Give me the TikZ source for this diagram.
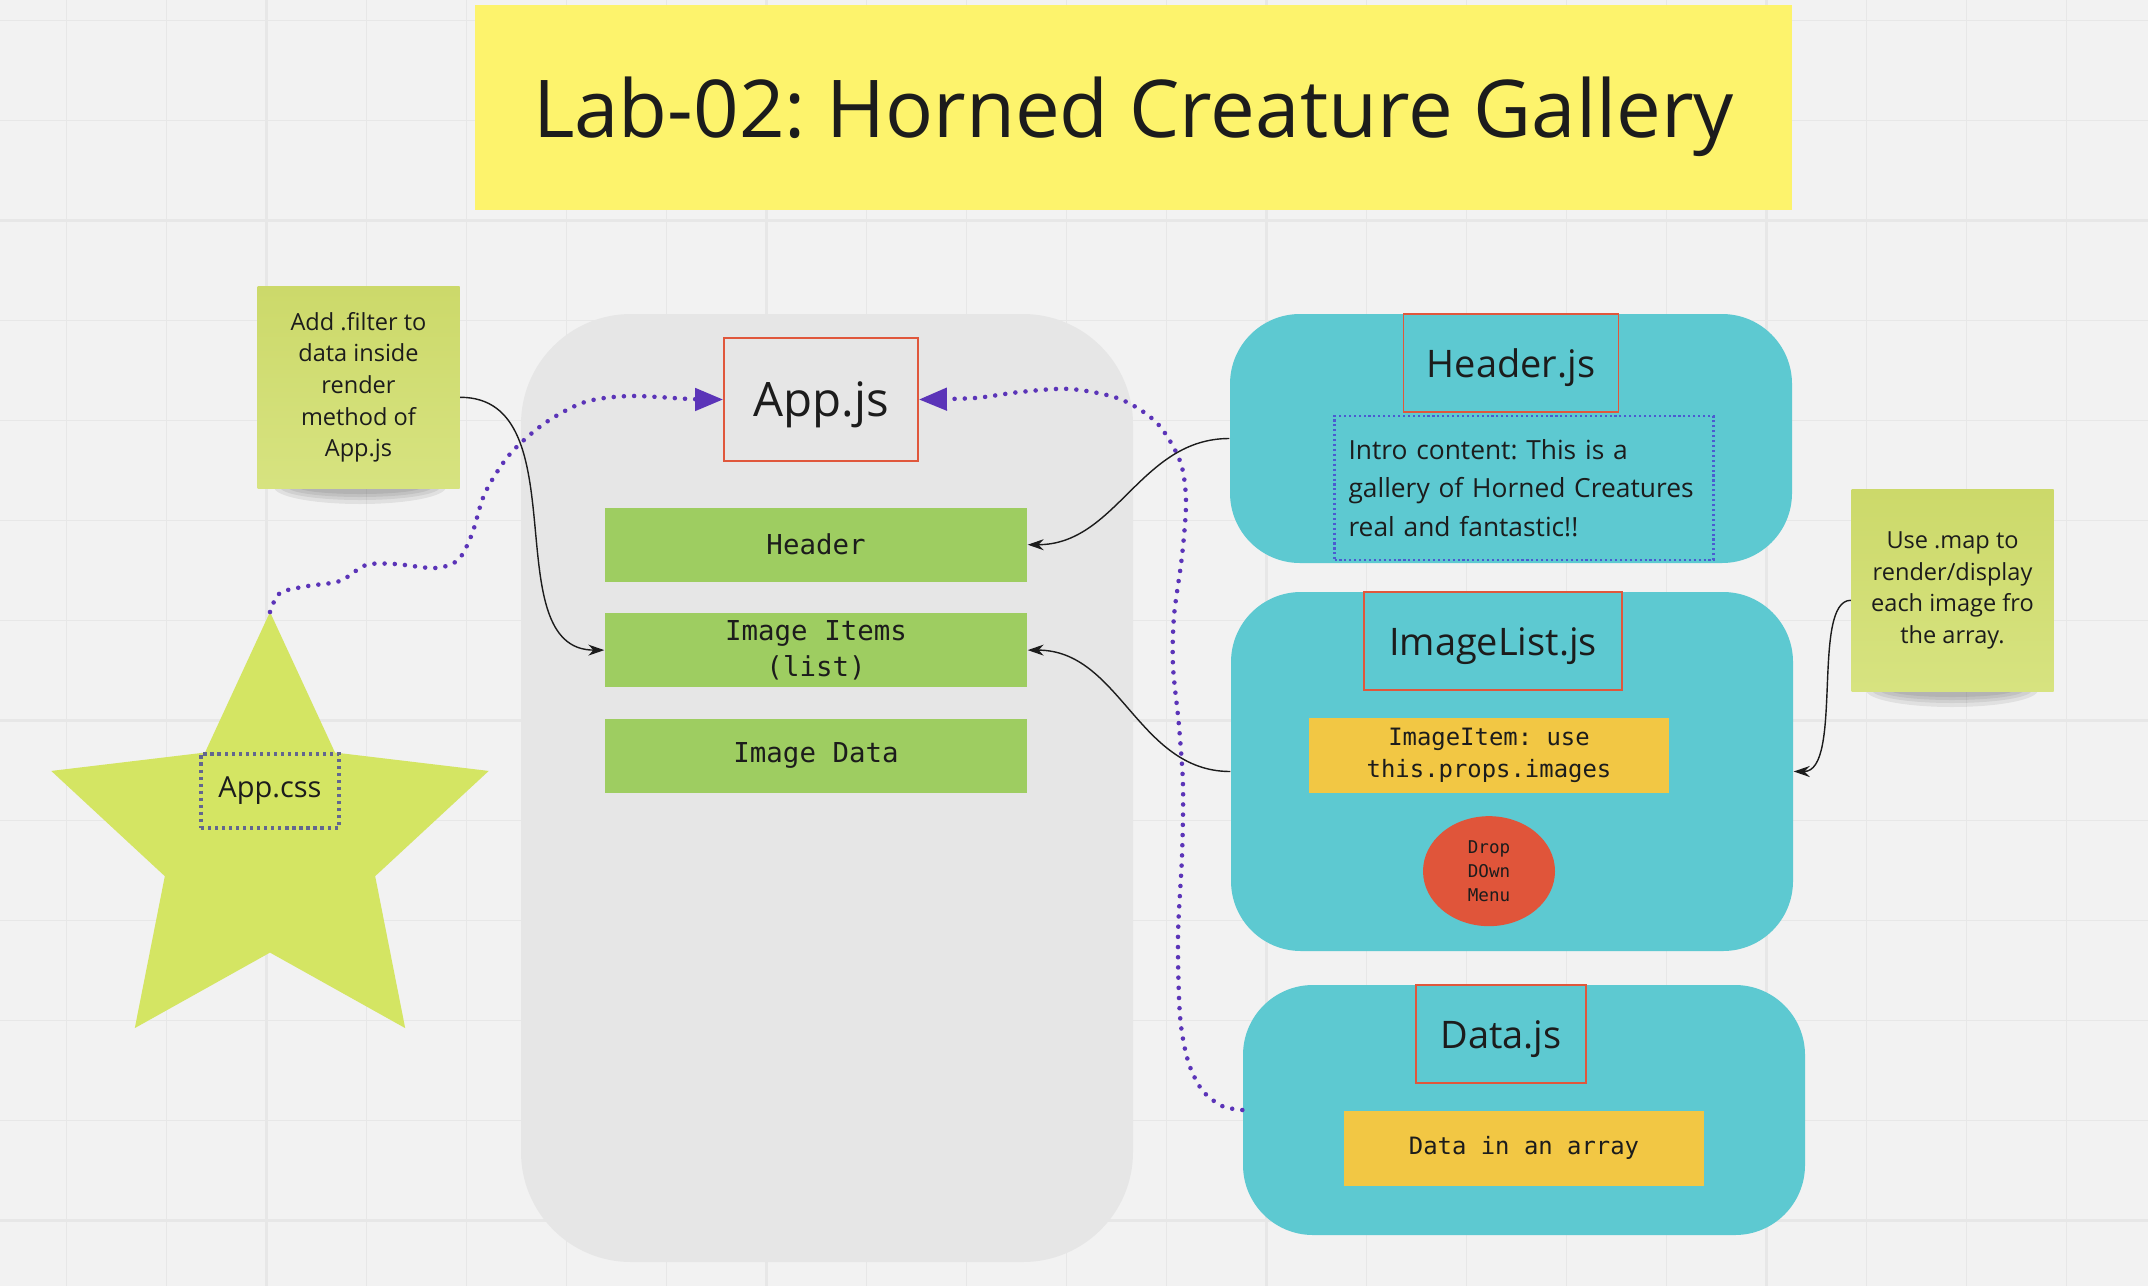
\documentclass[tikz,border=0pt]{standalone}
\usepackage{fontspec}
\setmainfont{Open Sans}
\setmonofont{DejaVu Sans Mono}
\usepackage{xcolor}
\usepackage{tikz}
\usetikzlibrary{shapes.geometric, arrows.meta, positioning}
\frenchspacing

\definecolor{paper}{HTML}{F2F2F2}
\definecolor{gridline}{HTML}{E7E7E7}
\definecolor{ink}{HTML}{1C1C1C}
\definecolor{titleyellow}{HTML}{FDF36C}
\definecolor{appgray}{HTML}{E6E6E6}
\definecolor{leafgreen}{HTML}{9ECD61}
\definecolor{filecyan}{HTML}{5DC9D1}
\definecolor{codeyellow}{HTML}{F2C744}
\definecolor{menured}{HTML}{E0553A}
\definecolor{jsred}{HTML}{E0573C}
\definecolor{stickytop}{HTML}{CCD96A}
\definecolor{stickybottom}{HTML}{D7E380}
\definecolor{stargreen}{HTML}{D4E563}
\definecolor{wirepurple}{HTML}{5B34B8}
\definecolor{introblue}{HTML}{4B5BD0}
\definecolor{cssslate}{HTML}{62668F}

\tikzset{
    banner/.style={rectangle, fill=titleyellow, minimum width=13.17cm, minimum height=2.05cm, text depth=0pt, text=ink, font=\fontsize{22.7}{27}\selectfont},
    appshell/.style={rectangle, fill=appgray, rounded corners=1.1cm, minimum width=6.12cm, minimum height=9.48cm},
    fileshell/.style={rectangle, fill=filecyan, rounded corners=0.7cm, minimum width=5.62cm},
    jsbox/.style={rectangle, draw=jsred, line width=0.5pt, minimum height=0.98cm, text depth=0pt, text=ink, font=\fontsize{10.8}{13}\selectfont},
    part/.style={rectangle, fill=leafgreen, minimum width=4.22cm, minimum height=0.74cm, inner sep=1pt, align=center, text=ink, font=\ttfamily\fontsize{7.8}{10.2}\selectfont},
    codebox/.style={rectangle, fill=codeyellow, minimum width=3.6cm, minimum height=0.75cm, inner sep=1pt, align=center, text=ink, font=\ttfamily\fontsize{6.8}{9}\selectfont},
    menu/.style={ellipse, fill=menured, minimum width=1.32cm, minimum height=1.10cm, inner sep=0pt, align=center, text=ink, font=\ttfamily\fontsize{5}{6.8}\selectfont},
    introbox/.style={rectangle, draw=introblue, line width=0.6pt, dash pattern=on 0.6pt off 0.8pt, minimum width=3.79cm, minimum height=1.44cm, inner xsep=0.14cm, text width=3.51cm, align=left, text=ink, font=\fontsize{7.5}{10.95}\selectfont},
    cssbox/.style={rectangle, draw=cssslate, line width=0.9pt, dash pattern=on 0.9pt off 1.1pt, minimum width=1.38cm, minimum height=0.74cm, text=ink, font=\fontsize{8.25}{10}\selectfont},
    sticky/.style={rectangle, top color=stickytop, bottom color=stickybottom, minimum width=2.02cm, minimum height=2.02cm, align=center, text=ink, font=\fontsize{6.7}{9}\selectfont},
    dots/.style={draw=wirepurple, line width=1.3pt, line cap=round, dash pattern=on 0pt off 2.9pt, -{Triangle[length=0.28cm, width=0.22cm]}},
    link/.style={draw=ink, line width=0.4pt, -{Stealth[length=0.16cm, width=0.11cm]}}
}

\begin{document}
\begin{tikzpicture}
    \useasboundingbox (0,0) rectangle (21.48,12.86);

    % Board
    \fill[paper] (0,0) rectangle (21.48,12.86);
    \foreach \x in {0.667,1.667,...,20.7} \draw[gridline, line width=0.3pt] (\x,0) -- (\x,12.86);
    \foreach \y in {0.653,1.653,...,12.7} \draw[gridline, line width=0.3pt] (0,\y) -- (21.48,\y);
    \foreach \x in {2.667,7.667,12.667,17.667} \draw[gridline, line width=0.9pt] (\x,0) -- (\x,12.86);
    \foreach \y in {0.653,5.653,10.653} \draw[gridline, line width=0.9pt] (0,\y) -- (21.48,\y);

    % Title
    \node [banner] (title) at (11.335,11.785) {Lab-02: Horned Creature Gallery\hspace{0.16cm}};

    % App.js
    \node [appshell] (appshell) at (8.27,4.98) {};
    \node [jsbox, minimum width=1.94cm, minimum height=1.23cm, font=\fontsize{13.5}{16}\selectfont] (appjs) at (8.21,8.865) {App.js};
    \node [part] (header) at (8.16,7.413) {Header};
    \node [part, below=0.30cm of header] (imageitems) {Image Items\\(list)};
    \node [part, below=0.30cm of imageitems] (imagedata) {Image Data};

    % Header.js
    \node [fileshell, minimum height=2.49cm] (headerfile) at (15.11,8.475) {};
    \node [jsbox, minimum width=2.15cm, below=0cm of headerfile.north] (headerjs) {Header.js};
    \node [introbox, below=0.02cm of headerjs, xshift=0.13cm] (intro) {Intro content: This is a\\gallery of Horned Creatures\\real and fantastic!!};

    % ImageList.js
    \node [fileshell, minimum height=3.59cm] (imagelistfile) at (15.12,5.145) {};
    \node [jsbox, minimum width=2.58cm, below=0cm of imagelistfile.north, xshift=-0.19cm] (imagelistjs) {ImageList.js};
    \node [codebox, below=0.26cm of imagelistjs, xshift=-0.04cm] (imageitem) {ImageItem: use\\this.props.images};
    \node [menu, below=0.22cm of imageitem] (dropdown) {Drop\\DOwn\\Menu};

    % Data.js
    \node [fileshell, minimum height=2.50cm] (datafile) at (15.24,1.76) {};
    \node [jsbox, minimum width=1.70cm, below=0cm of datafile.north, xshift=-0.23cm] (datajs) {Data.js};
    \node [codebox, below=0.26cm of datajs, xshift=0.23cm] (dataarray) {Data in an array};

    % Sticky notes
    \coordinate (addfoot) at (3.60,7.99);
    \coordinate (usefoot) at (19.52,5.96);
    \foreach \w/\h in {0.86/0.17, 0.80/0.13, 0.72/0.10, 0.62/0.07} {
        \fill[black, opacity=0.07] (addfoot) ellipse ({\w cm} and {\h cm});
        \fill[black, opacity=0.07] (usefoot) ellipse ({\w cm} and {\h cm});
    }
    \node [sticky, anchor=south] (addnote) at (3.585,7.97) {Add .filter to\\data inside\\render\\method of\\App.js};
    \node [sticky, anchor=south] (usenote) at (19.525,5.94) {Use .map to\\render/display\\each image fro\\the array.};

    % App.css
    \node [star, star points=5, star point ratio=2.08, minimum size=4.6cm, inner sep=0pt, outer sep=0pt, fill=stargreen] (cssstar) at (2.70,4.44) {};
    \node [cssbox] (appcss) at ([yshift=0.51cm]cssstar.center) {App.css};

    % Imports into App.js
    \draw [dots] plot [smooth] coordinates {(cssstar.north) (2.80,6.93) (3.08,7.00) (3.40,7.05) (3.66,7.21) (3.95,7.22) (4.35,7.18) (4.58,7.26) (4.72,7.52) (4.85,7.93) (5.10,8.32) (5.45,8.63) (5.85,8.84) (6.30,8.90) (6.90,8.87) (appjs.west)};
    \draw [dots] plot [smooth] coordinates {(datafile.west) (12.22,1.80) (12.02,1.96) (11.88,2.25) (11.80,2.70) (11.78,3.50) (11.82,4.30) (11.83,5.00) (11.79,5.60) (11.73,6.20) (11.74,6.70) (11.82,7.30) (11.86,7.85) (11.80,8.25) (11.57,8.63) (11.20,8.87) (10.70,8.97) (10.20,8.94) (9.75,8.88) (appjs.east)};

    % Components
    \draw [link] (headerfile.west) to[out=180, in=0] (header.east);
    \draw [link] (imagelistfile.west) to[out=180, in=0] (imageitems.east);
    \draw [link] ([yshift=-0.1cm]addnote.east) .. controls +(1.2,0) and +(-1.1,0) .. (imageitems.west);
    \draw [link] ([yshift=-0.1cm]usenote.west) .. controls +(-0.4,0) and +(0.5,0) .. (imagelistfile.east);
\end{tikzpicture}
\end{document}
